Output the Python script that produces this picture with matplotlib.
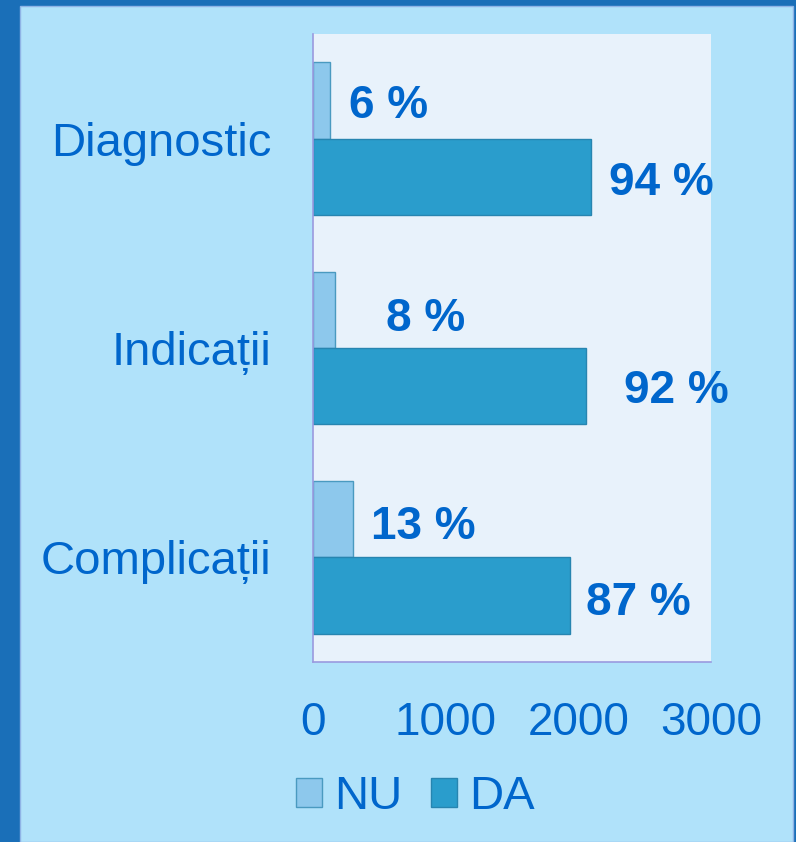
import matplotlib
matplotlib.use("Agg")
import matplotlib.pyplot as plt
from matplotlib.patches import Rectangle, Patch
import numpy as np

categories = ["Diagnostic", "Indicații", "Complicații"]
nu_values = [130, 168, 300]
da_values = [2095, 2057, 1935]
nu_labels = ["6 %", "8 %", "13 %"]
da_labels = ["94 %", "92 %", "87 %"]
x_ticks = [0, 1000, 2000, 3000]

# label offsets (pixels): horizontal from bar end to text centre, vertical from bar centre
nu_dx = [58, 90, 71]
nu_dy = [1, 5, 3]
da_dx = [70, 90, 69]
da_dy = [1.5, 0, 3]

TXT = "#0066CC"
PANEL = "#B0E2FA"
FRAME = "#1A6FB8"
PLOTBG = "#E8F2FB"
NU_C = "#8DC8EC"
DA_C = "#2A9DCC"

plt.rcParams['font.family'] = ['Liberation Sans', 'DejaVu Sans']

W, H = 796, 842
fig = plt.figure(figsize=(W / 100, H / 100), dpi=100)
fig.patch.set_facecolor(FRAME)
fig.patches.append(Rectangle((20 / W, 0), (793 - 20) / W, (H - 6) / H,
                             transform=fig.transFigure, facecolor=PANEL,
                             edgecolor="#8FB4E6", linewidth=1.0, zorder=-10))

ax = fig.add_axes([313 / W, (H - 662) / H, (711 - 313) / W, (662 - 34) / H])
ax.set_zorder(5)
ax.set_facecolor(PLOTBG)

y = np.arange(len(categories))
bh = 0.364
ax.barh(y - bh / 2, nu_values, height=bh, color=NU_C, edgecolor="#4A9AC0", linewidth=1, label="NU")
ax.barh(y + bh / 2, da_values, height=bh, color=DA_C, edgecolor="#2785B0", linewidth=1, label="DA")

ax.set_xlim(0, 3000)
ax.set_ylim(2.5, -0.5)
ax.set_xticks(x_ticks)
ax.set_xticklabels([str(t) for t in x_ticks], fontsize=33, color=TXT)
ax.set_yticks(y)
ax.set_yticklabels(categories, fontsize=34, color=TXT)
ax.tick_params(axis='both', length=0)
ax.tick_params(axis='y', pad=30)
ax.tick_params(axis='x', pad=28)
for s in ["top", "right"]:
    ax.spines[s].set_visible(False)
for s in ["left", "bottom"]:
    ax.spines[s].set_color("#9A9ADF")
    ax.spines[s].set_linewidth(1.2)

half = 16.5
for i in range(len(categories)):
    ax.annotate(nu_labels[i], (nu_values[i], y[i] - bh / 2),
                xytext=(nu_dx[i] * 0.72, -(nu_dy[i] + half) * 0.72), textcoords='offset points',
                ha='center', va='baseline', fontsize=33, fontweight='bold', color=TXT,
                annotation_clip=False)
    ax.annotate(da_labels[i], (da_values[i], y[i] + bh / 2),
                xytext=(da_dx[i] * 0.72, -(da_dy[i] + half) * 0.72), textcoords='offset points',
                ha='center', va='baseline', fontsize=33, fontweight='bold', color=TXT,
                annotation_clip=False)

handles = [Patch(facecolor=NU_C, edgecolor="#4A9AC0"), Patch(facecolor=DA_C, edgecolor="#2785B0")]
leg = fig.legend(handles, ["NU", "DA"], loc='center left',
                 bbox_to_anchor=(296 / W, 1 - 797 / H), ncol=2, frameon=False,
                 fontsize=34, handlelength=0.55, handleheight=0.55,
                 handletextpad=0.26, columnspacing=0.6, borderpad=0, borderaxespad=0)
for t in leg.get_texts():
    t.set_color(TXT)

fig.savefig("out.png", dpi=100, facecolor=fig.get_facecolor())
